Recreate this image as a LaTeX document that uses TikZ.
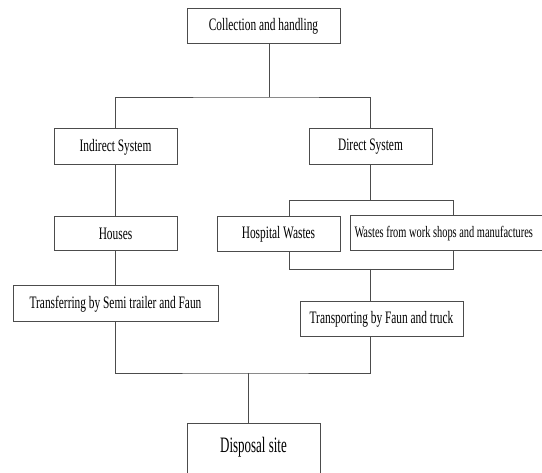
\documentclass[tikz,border=0pt]{standalone}
\usepackage{fontspec}
\setmainfont{Liberation Serif}[FakeStretch=0.65]
\newfontfamily\dispfont{Liberation Serif}[FakeStretch=0.59]
\usepackage{tikz}
\tikzstyle{box} = [draw=black!70, line width=1pt, rectangle, minimum height=35pt, inner sep=2pt, font={\fontsize{17.5}{20}\selectfont}]
\tikzstyle{link} = [draw=black!70, line width=0.9pt]

\begin{document}
\begin{tikzpicture}[x=1pt,y=-1pt]
    \useasboundingbox (0,0) rectangle (542,473);
    \clip (0,0) rectangle (542,473);
    \fill[white] (0,0) rectangle (542,473);
    \node[box,minimum width=153pt](coll) at (263.5,26.5){Collection and handling};
    \node[box,minimum width=123pt,minimum height=36pt](ind) at (115.5,147){Indirect System};
    \node[box,minimum width=123pt,minimum height=36pt](dir) at (370.5,147){Direct System};
    \node[box,minimum width=123pt,minimum height=34pt](hou) at (115.5,234){Houses};
    \node[box,minimum width=123pt](hosp) at (278.5,234.5){Hospital Wastes};
    \node[box,anchor=west,inner xsep=4pt,font={\fontsize{16}{18}\selectfont}](wst) at (350,233.5){\makebox[205pt][l]{Wastes from work shops and manufactures}};
    \node[box,minimum width=205pt,minimum height=36pt](trf) at (115.5,304){Transferring by Semi trailer and Faun};
    \node[box,minimum width=163pt](trp) at (381.5,319.5){Transporting by Faun and truck};
    \node[box,anchor=north,minimum width=133pt,inner ysep=4pt,text height=25pt,text depth=30pt,font={\dispfont\fontsize{22}{26}\selectfont}](disp) at (253.5,423){Disposal site};
    \coordinate (top) at (269,97);
    \coordinate (hl) at (289,200.5);
    \coordinate (hr) at (453,200.5);
    \coordinate (bl) at (289,269);
    \coordinate (br) at (453,269);
    \coordinate (tsp) at (370.5,269);
    \coordinate (join) at (248,373);
    \draw[link](coll.south -| top)--(top);
    \draw[link](ind.north)|-(top)-|(dir.north);
    \draw[link](ind.south)--(hou.north);
    \draw[link](hou.south)--(trf.north);
    \draw[link](dir.south)--(dir.south |- hl);
    \draw[link](hl |- hosp.north)--(hl)--(hr)--(hr |- wst.north);
    \draw[link](bl |- hosp.south)--(bl)--(br)--(br |- wst.south);
    \draw[link](tsp)--(tsp |- trp.north);
    \draw[link](trf.south)|-(join)-|(tsp |- trp.south);
    \draw[link](join)--(join |- disp.north);
\end{tikzpicture}
\end{document}
